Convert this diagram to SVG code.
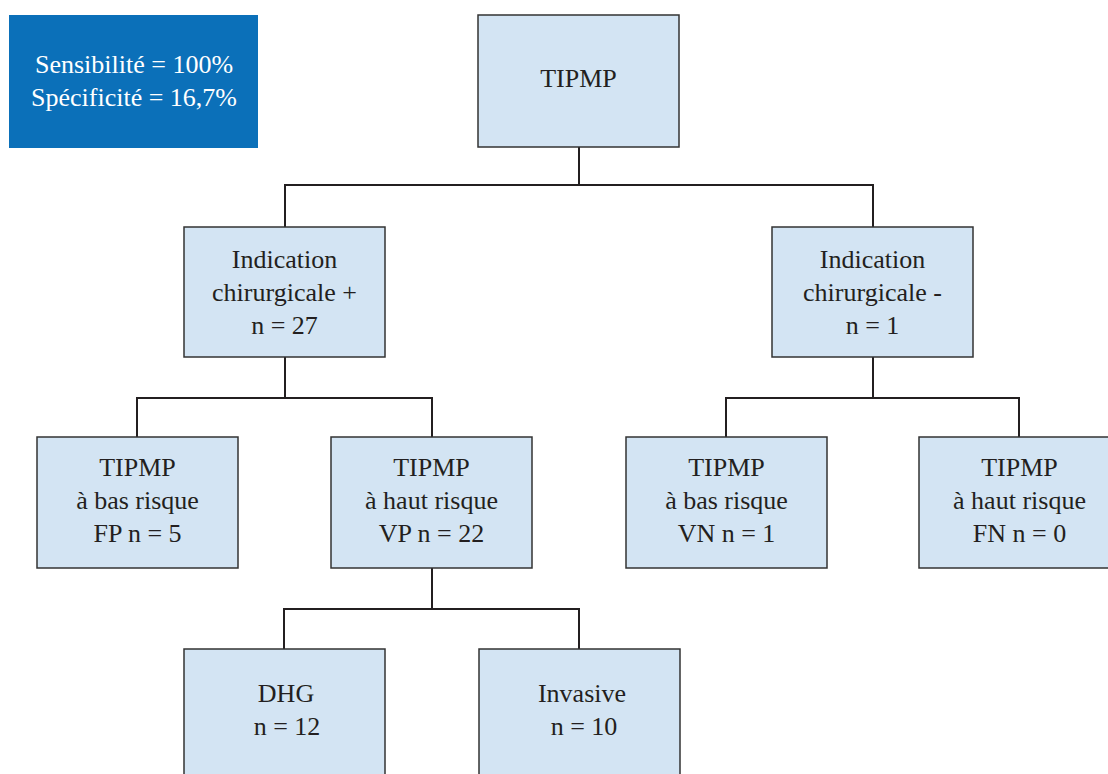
<svg xmlns="http://www.w3.org/2000/svg" width="1108" height="774" viewBox="0 0 1108 774">
<style>
.box{fill:#d3e4f3;stroke:#333;stroke-width:1.5}
text{font-family:'Liberation Serif','Times New Roman',serif;font-size:26px;text-anchor:middle}
.t{fill:#231f20}
.w{fill:#ffffff}
.c{fill:none;stroke:#231f20;stroke-width:2}
</style>
<rect width="1108" height="774" fill="#ffffff"/>
<g id="stats">
<rect x="9" y="15" width="249" height="133" fill="#0b70b9"/>
<text class="w" x="134" y="73">Sensibilité = 100%</text>
<text class="w" x="134" y="106">Spécificité = 16,7%</text>
</g>
<g id="connectors">
<path class="c" d="M579 147V185M285 227V185H873V227"/>
<path class="c" d="M285 357V398M137 437V398H432V437"/>
<path class="c" d="M873 357V398M726 437V398H1019V437"/>
<path class="c" d="M432 568V609M284 649V609H579V649"/>
</g>
<g id="n-tipmp">
<rect class="box" x="478" y="15" width="201" height="132"/>
<text class="t" x="578.5" y="87">TIPMP</text>
</g>
<g id="n-indic-pos">
<rect class="box" x="184" y="227" width="201" height="130"/>
<text class="t" x="284.5" y="268">Indication</text>
<text class="t" x="284.5" y="301">chirurgicale +</text>
<text class="t" x="284.5" y="334">n = 27</text>
</g>
<g id="n-indic-neg">
<rect class="box" x="772" y="227" width="201" height="130"/>
<text class="t" x="872.5" y="268">Indication</text>
<text class="t" x="872.5" y="301">chirurgicale -</text>
<text class="t" x="872.5" y="334">n = 1</text>
</g>
<g id="n-fp">
<rect class="box" x="37" y="437" width="201" height="131"/>
<text class="t" x="137.5" y="476">TIPMP</text>
<text class="t" x="137.5" y="509">à bas risque</text>
<text class="t" x="137.5" y="542">FP n = 5</text>
</g>
<g id="n-vp">
<rect class="box" x="331" y="437" width="201" height="131"/>
<text class="t" x="431.5" y="476">TIPMP</text>
<text class="t" x="431.5" y="509">à haut risque</text>
<text class="t" x="431.5" y="542">VP n = 22</text>
</g>
<g id="n-vn">
<rect class="box" x="626" y="437" width="201" height="131"/>
<text class="t" x="726.5" y="476">TIPMP</text>
<text class="t" x="726.5" y="509">à bas risque</text>
<text class="t" x="726.5" y="542">VN n = 1</text>
</g>
<g id="n-fn">
<rect class="box" x="919" y="437" width="201" height="131"/>
<text class="t" x="1019.5" y="476">TIPMP</text>
<text class="t" x="1019.5" y="509">à haut risque</text>
<text class="t" x="1019.5" y="542">FN n = 0</text>
</g>
<g id="n-dhg">
<rect class="box" x="184" y="649" width="201" height="135"/>
<text class="t" x="286" y="702">DHG</text>
<text class="t" x="287" y="735">n = 12</text>
</g>
<g id="n-invasive">
<rect class="box" x="479" y="649" width="201" height="135"/>
<text class="t" x="582" y="702">Invasive</text>
<text class="t" x="584" y="735">n = 10</text>
</g>
</svg>
